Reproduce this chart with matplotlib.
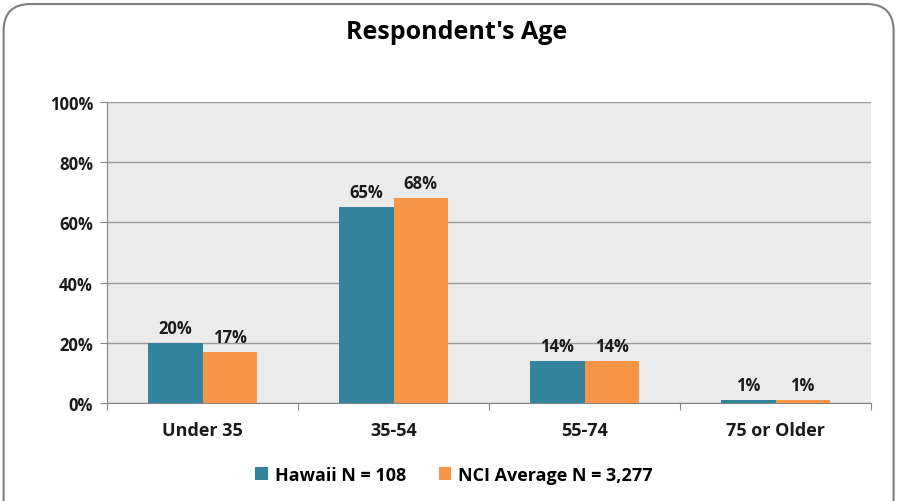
import matplotlib.pyplot as plt
from matplotlib.patches import FancyBboxPatch
import numpy as np

categories = ["Under 35", "35-54", "55-74", "75 or Older"]
hawaii = [20, 65, 14, 1]
nci = [17, 68, 14, 1]
series_names = ["Hawaii N = 108", "NCI Average N = 3,277"]

TEAL = "#31849B"
ORANGE = "#F79646"
PANEL = "#EBEBEB"
GRID = "#9A9A9A"

plt.rcParams["font.family"] = ["Open Sans", "DejaVu Sans"]

fig = plt.figure(figsize=(8.99, 5.02), dpi=100, facecolor="white")

# rounded chart border
border = FancyBboxPatch((0.004, -0.05), 0.99, 1.04, transform=fig.transFigure,
                        boxstyle="round,pad=0,rounding_size=0.03",
                        facecolor="none", edgecolor="#7F7F7F", linewidth=1.5,
                        mutation_aspect=899 / 502)
fig.patches.append(border)

ax = fig.add_axes([107 / 899, 1 - 404 / 502, (871 - 107) / 899, (404 - 103) / 502])
ax.set_facecolor(PANEL)

x = np.arange(len(categories))
w = 0.285
ax.bar(x - w / 2, hawaii, w, color=TEAL, label=series_names[0], zorder=3)
ax.bar(x + w / 2, nci, w, color=ORANGE, label=series_names[1], zorder=3)

for xi, (h, n) in enumerate(zip(hawaii, nci)):
    ax.text(xi - w / 2, h + 2, f"{h}%", ha="center", va="bottom",
            fontsize=12, fontweight="bold", color="#1a1a1a")
    ax.text(xi + w / 2, n + 2, f"{n}%", ha="center", va="bottom",
            fontsize=12, fontweight="bold", color="#1a1a1a")

ax.set_xlim(-0.5, len(categories) - 0.5)
ax.set_ylim(0, 100)
ax.set_yticks(range(0, 101, 20))
ax.set_yticklabels([f"{v}%" for v in range(0, 101, 20)])
ax.yaxis.grid(True, color=GRID, linewidth=1, zorder=0)
ax.set_axisbelow(True)

ax.set_xticks(np.arange(-0.5, len(categories), 1), minor=False)
ax.set_xticklabels([])
ax.set_xticks(x, minor=True)
ax.set_xticklabels(categories, minor=True)
ax.tick_params(axis="x", which="minor", length=0, pad=13, labelsize=13)
ax.tick_params(axis="x", which="major", length=5, color="#868686")
ax.tick_params(axis="y", length=5, color="#868686", labelsize=12, pad=5)
for lbl in ax.get_xticklabels(minor=True) + ax.get_yticklabels():
    lbl.set_fontweight("bold")
    lbl.set_color("#1a1a1a")

for s in ["top", "right"]:
    ax.spines[s].set_visible(False)
ax.spines["left"].set_color("#868686")
ax.spines["bottom"].set_color("#868686")

fig.text(0.508, 1 - 33 / 502, "Respondent's Age", ha="center", va="center",
         fontsize=18, fontweight="bold", color="black")

leg = fig.legend(loc="center", bbox_to_anchor=(0.505, 1 - 476 / 502), ncol=2,
                 frameon=False, handlelength=0.7, handleheight=0.7,
                 handletextpad=0.4, columnspacing=1.8,
                 prop={"weight": "bold", "size": 13})

fig.savefig("out.png", dpi=100, facecolor="white")
